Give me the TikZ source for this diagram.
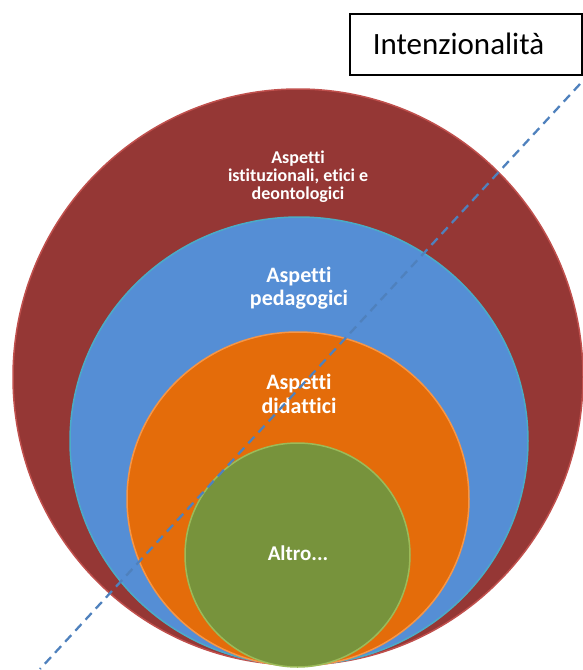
\documentclass[tikz,border=0pt]{standalone}
\usepackage{fontspec}
\setmainfont{Carlito}[RawFeature={-liga;-clig;-dlig}]
\definecolor{rosso}{HTML}{953735}
\definecolor{rossobordo}{HTML}{C0504D}
\definecolor{blu}{HTML}{558ED5}
\definecolor{blubordo}{HTML}{4BACC6}
\definecolor{arancio}{HTML}{E46C0A}
\definecolor{aranciobordo}{HTML}{F79646}
\definecolor{verde}{HTML}{77933C}
\definecolor{verdebordo}{HTML}{9BBB59}
\definecolor{linea}{HTML}{4F81BD}
\begin{document}
\begin{tikzpicture}[x=1pt,y=-1pt,
  cerchio/.style={line width=1.5},
  etichetta/.style={text=white, align=center, inner sep=0pt}]
\useasboundingbox (0,0) rectangle (582,670);
\filldraw[cerchio, fill=rosso, draw=rossobordo] (298,377) ellipse [x radius=285pt, y radius=288pt];
\filldraw[cerchio, fill=blu, draw=blubordo] (299,441) ellipse [x radius=229pt, y radius=224pt];
\filldraw[cerchio, fill=arancio, draw=aranciobordo] (298,499) ellipse [x radius=171pt, y radius=167pt];
\filldraw[cerchio, fill=verde, draw=verdebordo] (297.5,555) ellipse [x radius=112.5pt, y radius=112pt];
\node[etichetta, font=\bfseries\fontsize{18}{18}\selectfont] (istituzionali) at (298,177) {Aspetti\\istituzionali, etici e\\deontologici};
\node[etichetta, font=\bfseries\fontsize{22}{23}\selectfont] (pedagogici) at (299,288) {Aspetti\\pedagogici};
\node[etichetta, font=\bfseries\fontsize{22}{24}\selectfont] (didattici) at (299,394) {Aspetti\\didattici};
\node[etichetta, font=\bfseries\fontsize{21}{21}\selectfont] (altro) at (298,553) {Altro...};
\node[draw, line width=1.5, anchor=north west, minimum width=232pt, minimum height=61pt,
  inner xsep=23pt, text width=186pt, align=left, font=\fontsize{31}{31}\selectfont] (intenzionalita) at (349,13) {Intenzionalità};
\coordinate (alto) at (580,84);
\coordinate (basso) at (40,669);
\draw[linea, line width=2.3, dash pattern=on 9pt off 6pt] (alto) -- (basso);
\end{tikzpicture}
\end{document}
